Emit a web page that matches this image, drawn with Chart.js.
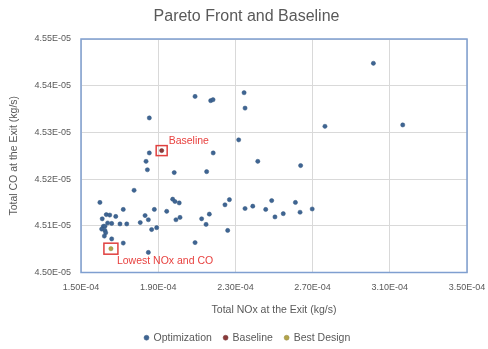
<!DOCTYPE html>
<html>
<head>
<meta charset="utf-8">
<script src="https://cdn.jsdelivr.net/npm/chart.js@4"></script>
<style>
  html, body { margin: 0; padding: 0; background: #fff; }
  #wrap { width: 488px; height: 349px; }
</style>
</head>
<body>
<div id="wrap"><canvas id="paretoChart" width="488" height="349"></canvas></div>
<script>
// Optimization points: NOx (kg/s) and CO (kg/s) at the exit
const noxOpt = [
  1.598e-4, 1.631e-4, 1.649e-4, 1.680e-4, 1.610e-4, 1.638e-4, 1.659e-4, 1.702e-4, 1.737e-4,
  1.616e-4, 1.624e-4, 1.607e-4, 1.624e-4, 1.628e-4, 1.621e-4, 1.659e-4, 1.719e-4, 1.719e-4,
  1.775e-4, 1.832e-4, 1.849e-4, 1.807e-4, 1.880e-4, 1.866e-4, 1.892e-4, 1.849e-4, 1.854e-4,
  1.837e-4, 1.844e-4, 1.854e-4, 1.944e-4, 1.975e-4, 1.987e-4, 2.009e-4, 1.992e-4, 2.013e-4,
  1.983e-4, 2.091e-4, 2.172e-4, 2.184e-4, 2.185e-4, 2.151e-4, 2.125e-4, 2.165e-4, 2.148e-4,
  2.091e-4, 2.246e-4, 2.269e-4, 2.260e-4, 2.345e-4, 2.350e-4, 2.317e-4, 2.416e-4, 2.350e-4,
  2.390e-4, 2.457e-4, 2.488e-4, 2.505e-4, 2.548e-4, 2.611e-4, 2.635e-4, 2.698e-4, 2.638e-4,
  2.764e-4, 3.015e-4, 3.167e-4
];
const coOpt = [
  4.5150e-5, 4.5124e-5, 4.5123e-5, 4.5120e-5, 4.5115e-5, 4.5106e-5, 4.5105e-5, 4.5104e-5, 4.5104e-5,
  4.5099e-5, 4.5099e-5, 4.5093e-5, 4.5090e-5, 4.5085e-5, 4.5078e-5, 4.5072e-5, 4.5063e-5, 4.5135e-5,
  4.5176e-5, 4.5122e-5, 4.5113e-5, 4.5107e-5, 4.5135e-5, 4.5092e-5, 4.5096e-5, 4.5043e-5, 4.5256e-5,
  4.5238e-5, 4.5220e-5, 4.5331e-5, 4.5131e-5, 4.5157e-5, 4.5152e-5, 4.5149e-5, 4.5113e-5, 4.5118e-5,
  4.5214e-5, 4.5377e-5, 4.5368e-5, 4.5370e-5, 4.5256e-5, 4.5216e-5, 4.5115e-5, 4.5125e-5, 4.5103e-5,
  4.5064e-5, 4.5145e-5, 4.5156e-5, 4.5090e-5, 4.5385e-5, 4.5352e-5, 4.5284e-5, 4.5238e-5, 4.5137e-5,
  4.5142e-5, 4.5135e-5, 4.5154e-5, 4.5119e-5, 4.5126e-5, 4.5150e-5, 4.5129e-5, 4.5136e-5, 4.5229e-5,
  4.5313e-5, 4.5448e-5, 4.5316e-5
];

// Baseline and best design
const noxBaseline = [1.918e-4];
const coBaseline = [4.5261e-5];
const noxBest = [1.655e-4];
const coBest = [4.5051e-5];

// Axis ticks
const xTicks = [1.5e-4, 1.9e-4, 2.3e-4, 2.7e-4, 3.1e-4, 3.5e-4];
const yTicks = [4.50e-5, 4.51e-5, 4.52e-5, 4.53e-5, 4.54e-5, 4.55e-5];

const textGray = "#595959";
const fontFamily = "'Liberation Sans', Arial, sans-serif";

function toPoints(xs, ys) {
    return xs.map((x, i) => ({ x: x, y: ys[i] }));
}

// Excel-like label: 4.55E-05
function sciLabel(v) {
    const parts = v.toExponential(2).split("e");
    const exp = parseInt(parts[1], 10);
    const sign = exp < 0 ? "-" : "+";
    const digits = String(Math.abs(exp)).padStart(2, "0");
    return parts[0] + "E" + sign + digits;
}

// Title and legend sit a bit right of the canvas centre in the original
const shiftBlocks = {
    id: "shiftBlocks",
    afterLayout(chart) {
        if (chart.titleBlock) {
            chart.titleBlock.left += 13;
            chart.titleBlock.right += 13;
        }
        if (chart.legend) {
            chart.legend.left += 14;
            chart.legend.right += 14;
        }
    }
};

// Border round the plot area and red boxes / labels for baseline and best design
const annotations = {
    id: "annotations",
    afterDatasetsDraw(chart) {
        const { ctx, chartArea, scales } = chart;
        ctx.save();
        ctx.strokeStyle = "#7f9fd0";
        ctx.lineWidth = 1.5;
        ctx.strokeRect(chartArea.left, chartArea.top, chartArea.right - chartArea.left, chartArea.bottom - chartArea.top);

        const bx = scales.x.getPixelForValue(noxBaseline[0]);
        const by = scales.y.getPixelForValue(coBaseline[0]);
        const gx = scales.x.getPixelForValue(noxBest[0]);
        const gy = scales.y.getPixelForValue(coBest[0]);

        ctx.strokeStyle = "#e0403f";
        ctx.lineWidth = 1.5;
        ctx.strokeRect(bx - 5.5, by - 5, 11, 10);
        ctx.strokeRect(gx - 7, gy - 5.5, 14, 11);

        ctx.fillStyle = "#e8413f";
        ctx.font = "10.5px " + fontFamily;
        ctx.textBaseline = "middle";
        ctx.textAlign = "left";
        ctx.fillText("Baseline", bx + 7, by - 10);
        ctx.fillText("Lowest NOx and CO", gx + 6, gy + 12);
        ctx.restore();
    }
};

const ctx = document.getElementById("paretoChart").getContext("2d");

new Chart(ctx, {
    type: "scatter",
    data: {
        datasets: [
            {
                label: "Optimization",
                data: toPoints(noxOpt, coOpt),
                backgroundColor: "#3f6593",
                borderColor: "#33567f",
                borderWidth: 0.5,
                pointRadius: 2.1
            },
            {
                label: "Baseline",
                data: toPoints(noxBaseline, coBaseline),
                backgroundColor: "#8a3a3a",
                borderColor: "#6e2c2c",
                borderWidth: 0.5,
                pointRadius: 2.1
            },
            {
                label: "Best Design",
                data: toPoints(noxBest, coBest),
                backgroundColor: "#b3a44a",
                borderColor: "#8f8238",
                borderWidth: 0.5,
                pointRadius: 2.1
            }
        ]
    },
    options: {
        responsive: false,
        animation: false,
        layout: {
            padding: { left: 0, right: 21, top: 0, bottom: -4 }
        },
        plugins: {
            title: {
                display: true,
                text: "Pareto Front and Baseline",
                color: textGray,
                font: { family: fontFamily, size: 16, weight: "normal" },
                padding: { top: 7, bottom: 12.8 }
            },
            legend: {
                position: "bottom",
                labels: {
                    usePointStyle: true,
                    pointStyle: "circle",
                    boxWidth: 3.5,
                    boxHeight: 3.5,
                    padding: 12,
                    color: textGray,
                    font: { family: fontFamily, size: 10.5 }
                }
            },
            tooltip: { enabled: false }
        },
        scales: {
            x: {
                type: "linear",
                min: 1.5e-4,
                max: 3.5e-4,
                afterBuildTicks: (scale) => { scale.ticks = xTicks.map(v => ({ value: v })); },
                afterFit: (scale) => {
                    scale.height = 48;
                    scale.paddingLeft = 0;
                    scale.paddingRight = 0;
                },
                grid: { color: "#d9d9d9", drawTicks: false },
                border: { display: false },
                ticks: {
                    padding: 10,
                    color: textGray,
                    font: { family: fontFamily, size: 9 },
                    maxRotation: 0,
                    callback: (v) => sciLabel(v)
                },
                title: {
                    display: true,
                    text: "Total NOx at the Exit (kg/s)",
                    color: textGray,
                    font: { family: fontFamily, size: 10.5 },
                    padding: { top: 0, bottom: 4 }
                }
            },
            y: {
                type: "linear",
                min: 4.50e-5,
                max: 4.55e-5,
                afterBuildTicks: (scale) => { scale.ticks = yTicks.map(v => ({ value: v })); },
                afterFit: (scale) => { scale.width = 81; },
                grid: { color: "#d9d9d9", drawTicks: false },
                border: { display: false },
                ticks: {
                    padding: 10,
                    color: textGray,
                    font: { family: fontFamily, size: 9 },
                    callback: (v) => sciLabel(v)
                },
                title: {
                    display: true,
                    text: "Total CO at the Exit (kg/s)",
                    color: textGray,
                    font: { family: fontFamily, size: 10.5 },
                    padding: { top: 8, bottom: 0 }
                }
            }
        }
    },
    plugins: [shiftBlocks, annotations]
});
</script>
</body>
</html>
